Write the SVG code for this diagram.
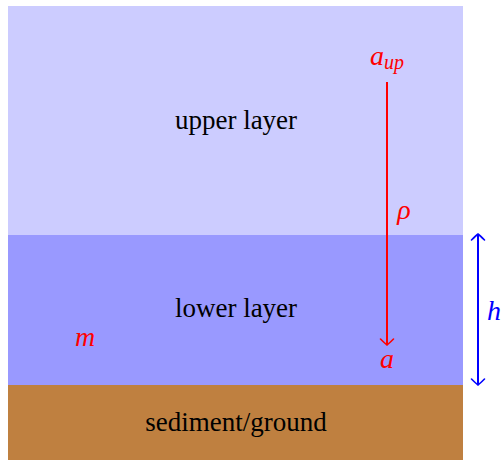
<svg xmlns="http://www.w3.org/2000/svg" width="501" height="460" viewBox="0 0 501 460">
<style>
text{font-family:"Liberation Serif","Times New Roman",serif}
.lbl{font-size:27px;fill:#000;text-anchor:middle}
.math{font-style:italic;font-size:28px;text-anchor:middle}
.red{fill:#ff0000}
.blue{fill:#0000ff}
</style>
<defs>
<marker id="ah-red" viewBox="-8 -8 10 16" refX="0" refY="0" markerWidth="10" markerHeight="16" markerUnits="userSpaceOnUse" orient="auto-start-reverse">
<path d="M-6,-6.5 Q-1.5,-2 0,0 Q-1.5,2 -6,6.5" fill="none" stroke="#ff0000" stroke-width="1.6" stroke-linecap="round" stroke-linejoin="round"/>
</marker>
<marker id="ah-blue" viewBox="-8 -8 10 16" refX="0" refY="0" markerWidth="10" markerHeight="16" markerUnits="userSpaceOnUse" orient="auto-start-reverse">
<path d="M-6,-6.5 Q-1.5,-2 0,0 Q-1.5,2 -6,6.5" fill="none" stroke="#0000ff" stroke-width="1.6" stroke-linecap="round" stroke-linejoin="round"/>
</marker>
</defs>
<g id="upper-layer">
<rect x="8" y="6" width="455" height="229" fill="#ccccff"/>
<text class="lbl" x="236" y="129">upper layer</text>
</g>
<g id="lower-layer">
<rect x="8" y="235" width="455" height="150" fill="#9999ff"/>
<text class="lbl" x="236" y="317">lower layer</text>
</g>
<g id="sediment">
<rect x="8" y="385" width="455" height="75" fill="#bf8040"/>
<text class="lbl" x="236" y="431">sediment/ground</text>
</g>
<g id="labels">
<text class="math red" x="387" y="65">a<tspan font-size="20" dy="4">up</tspan></text>
<text class="math red" x="404" y="219">ρ</text>
<text class="math red" x="387" y="368">a</text>
<text class="math red" x="85" y="346">m</text>
<text class="math blue" x="494" y="320">h</text>
</g>
<g id="connectors">
<line x1="387" y1="82" x2="387" y2="345" stroke="#ff0000" stroke-width="2" marker-end="url(#ah-red)"/>
<line x1="478" y1="234" x2="478" y2="385" stroke="#0000ff" stroke-width="2" marker-start="url(#ah-blue)" marker-end="url(#ah-blue)"/>
</g>
</svg>
